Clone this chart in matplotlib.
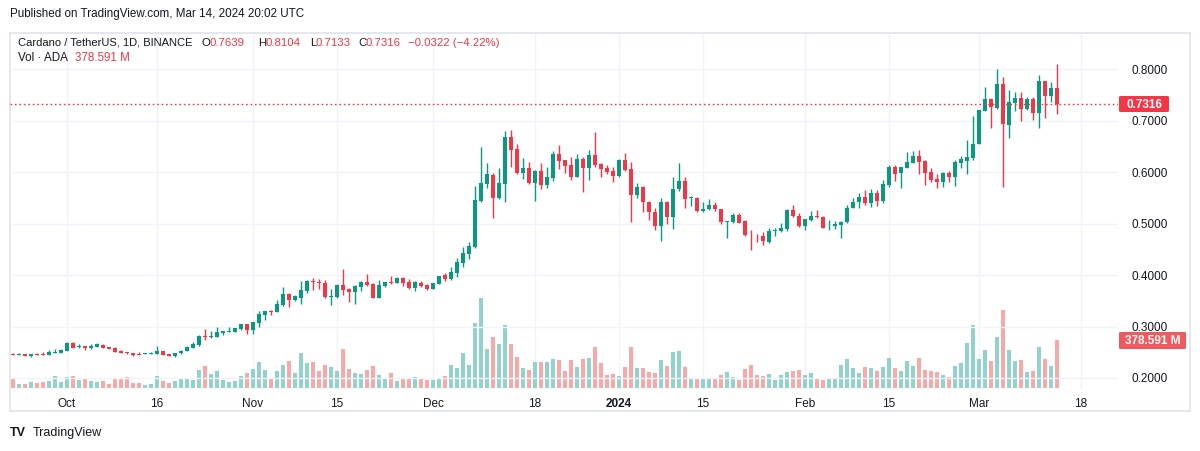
import numpy as np
import pandas as pd
import matplotlib
matplotlib.use("Agg")
import matplotlib.pyplot as plt
from matplotlib.patches import FancyBboxPatch
from matplotlib.lines import Line2D

plt.rcParams['font.family'] = ['Liberation Sans', 'DejaVu Sans']

start_date = "2023-09-22"

opens = [.2463,.2450,.2465,.2432,.2460,.2465,.2450,.2495,.2495,.2520,
         .2670,.2605,.2618,.2590,.2605,.2650,.2605,.2585,.2528,.2502,
         .2476,.2457,.2475,.2475,.2470,.2521,.2463,.2424,.2476,.2521,
         .2592,.2637,.2810,.2790,.2799,.2876,.2896,.2890,.2948,.3040,
         .2935,.3065,.3220,.3298,.3285,.3408,.3628,.3518,.3563,.3686,
         .3880,.3867,.3841,.3570,.3570,.3809,.3732,.3673,.3770,.3867,
         .3828,.3557,.3794,.3858,.3852,.3942,.3858,.3755,.3845,.3813,
         .3735,.3832,.3994,.3916,.4045,.4239,.4406,.4542,.5439,.5774,
         .5935,.5497,.5768,.6684,.6445,.5987,.6077,.5794,.6019,.5755,
         .5890,.6348,.6232,.6135,.5910,.6252,.6084,.6329,.6155,.6077,
         .6019,.5929,.6232,.6065,.5560,.5715,.5424,.5230,.4945,.5424,
         .5120,.5676,.5832,.5495,.5502,.5236,.5288,.5366,.5288,.5036,
         .5036,.5172,.5042,.4803,.4799,.4764,.4641,.4861,.4848,.4900,
         .5269,.5152,.4958,.5074,.5152,.5133,.4945,.4945,.4977,.5023,
         .5307,.5411,.5521,.5405,.5600,.5445,.5755,.6097,.5987,.6084,
         .6181,.6310,.6206,.6000,.5858,.5806,.5981,.5903,.6181,.6213,
         .6277,.6542,.7187,.7413,.7252,.7703,.6916,.7342,.7432,.7226,
         .7413,.7148,.7761,.7477,.7639]

highs = [.2482,.2480,.2470,.2470,.2480,.2500,.2535,.2560,.2566,.2690,
         .2695,.2657,.2620,.2657,.2680,.2660,.2610,.2605,.2540,.2505,
         .2480,.2498,.2485,.2508,.2625,.2525,.2470,.2485,.2540,.2625,
         .2690,.2840,.2950,.2903,.2987,.2915,.2987,.2980,.3045,.3058,
         .3097,.3298,.3310,.3330,.3518,.3764,.3660,.3610,.3880,.3906,
         .3951,.3919,.3900,.3725,.3828,.4119,.3740,.3800,.3880,.4016,
         .3850,.3900,.3870,.3980,.3961,.3960,.3916,.3884,.3884,.3832,
         .3850,.3990,.4032,.4161,.4329,.4548,.4645,.5723,.6484,.6174,
         .5981,.6077,.6800,.6813,.6548,.6277,.6194,.6039,.6174,.6097,
         .6406,.6523,.6240,.6290,.6348,.6290,.6426,.6774,.6170,.6135,
         .6097,.6252,.6368,.6200,.5793,.5735,.5443,.5295,.5502,.5443,
         .5910,.6181,.5910,.5541,.5510,.5424,.5482,.5411,.5290,.5055,
         .5197,.5210,.5074,.4880,.4803,.4842,.4913,.4913,.5016,.5288,
         .5366,.5211,.5094,.5249,.5269,.5139,.5074,.5055,.5042,.5366,
         .5502,.5599,.5657,.5676,.5657,.5839,.6135,.6135,.6103,.6387,
         .6400,.6426,.6232,.6084,.5961,.6000,.6019,.6232,.6310,.6619,
         .7084,.7200,.7645,.7439,.7994,.7839,.7594,.7548,.7548,.7465,
         .7452,.7877,.7761,.7742,.8104]

lows = [.2440,.2445,.2430,.2415,.2445,.2445,.2445,.2490,.2490,.2515,
        .2580,.2573,.2547,.2570,.2600,.2575,.2563,.2505,.2480,.2470,
        .2430,.2445,.2470,.2470,.2465,.2443,.2425,.2411,.2460,.2515,
        .2590,.2620,.2740,.2773,.2795,.2838,.2890,.2885,.2935,.2851,
        .2851,.2994,.3130,.3220,.3280,.3389,.3369,.3500,.3434,.3660,
        .3712,.3725,.3550,.3415,.3557,.3602,.3480,.3434,.3693,.3796,
        .3550,.3550,.3768,.3830,.3840,.3794,.3729,.3697,.3768,.3710,
        .3730,.3820,.3890,.3903,.3968,.4161,.4316,.4529,.5420,.5690,
        .5110,.5480,.5426,.6103,.5970,.5865,.5768,.5445,.5671,.5690,
        .5832,.6065,.5974,.5845,.5900,.5619,.5852,.6103,.5910,.5961,
        .5813,.5910,.6026,.5023,.5502,.5230,.5074,.4880,.4654,.4984,
        .4887,.5625,.5294,.5333,.5230,.5230,.5256,.5236,.4984,.4725,
        .5003,.5003,.4757,.4492,.4647,.4589,.4628,.4764,.4840,.4848,
        .5133,.4932,.4867,.5055,.5107,.4913,.4880,.4900,.4725,.5016,
        .5300,.5295,.5366,.5314,.5348,.5406,.5716,.5826,.5697,.6071,
        .6174,.5961,.5755,.5806,.5697,.5716,.5806,.5729,.6084,.5961,
        .6239,.6535,.7187,.6858,.7226,.5716,.6665,.7187,.6994,.7200,
        .7019,.6858,.7052,.7361,.7133]

closes = [.2450,.2465,.2432,.2460,.2450,.2450,.2510,.2510,.2545,.2677,
          .2585,.2625,.2580,.2625,.2663,.2580,.2566,.2510,.2485,.2485,
          .2443,.2450,.2482,.2489,.2521,.2444,.2431,.2482,.2528,.2605,
          .2663,.2819,.2790,.2818,.2890,.2909,.2916,.2968,.3039,.2935,
          .3078,.3239,.3298,.3290,.3434,.3628,.3518,.3595,.3705,.3880,
          .3867,.3854,.3570,.3583,.3809,.3712,.3673,.3790,.3867,.3809,
          .3557,.3806,.3858,.3845,.3942,.3852,.3755,.3865,.3787,.3735,
          .3845,.3981,.3929,.4058,.4252,.4426,.4561,.5452,.5787,.5961,
          .5497,.5787,.6684,.6426,.5987,.6077,.5794,.6019,.5755,.5903,
          .6348,.6219,.6123,.5910,.6252,.6084,.6329,.6142,.6065,.6006,
          .5929,.6232,.6039,.5560,.5715,.5411,.5217,.4945,.5424,.5120,
          .5676,.5832,.5469,.5502,.5236,.5288,.5366,.5275,.5023,.5055,
          .5172,.5016,.4770,.4790,.4790,.4654,.4861,.4880,.4919,.5269,
          .5139,.4945,.5094,.5152,.5120,.4919,.4958,.4997,.5036,.5307,
          .5424,.5521,.5405,.5599,.5445,.5768,.6097,.5961,.6097,.6194,
          .6310,.6194,.5987,.5845,.5806,.5981,.5903,.6194,.6252,.6290,
          .6542,.7200,.7413,.7265,.7703,.6923,.7355,.7432,.7226,.7413,
          .7148,.7761,.7477,.7638,.7316]

volumes_m = [79,32,32,48,40,48,56,95,48,87,95,64,71,56,48,56,32,79,71,87,
             40,40,24,32,95,56,40,56,79,79,64,143,175,111,135,64,48,56,95,119,151,
             206,143,71,135,183,214,119,278,198,206,135,183,167,135,310,151,119,111,143,175,103,
             71,119,56,71,79,87,71,64,64,79,95,183,159,278,183,516,715,310,405,349,500,
             349,246,159,143,206,206,206,230,222,135,222,167,230,238,326,198,103,111,95,167,
             326,159,159,127,119,222,175,286,294,167,79,79,71,79,71,103,127,87,64,151,183,
             103,95,111,64,103,127,135,143,103,119,71,64,79,79,183,230,159,119,167,159,135,
             167,238,159,135,214,175,238,143,135,127,103,87,175,198,357,500,230,302,214,405,619,
             302,214,222,127,135,326,230,175,378.591]

tick_dates = ["2023-10-01", "2023-10-16", "2023-11-01", "2023-11-15", "2023-12-01",
              "2023-12-18", "2024-01-01", "2024-01-15", "2024-02-01", "2024-02-15",
              "2024-03-01", "2024-03-18"]
tick_labels = ["Oct", "16", "Nov", "15", "Dec", "18", "2024", "15", "Feb", "15", "Mar", "18"]
price_ticks = [0.2, 0.3, 0.4, 0.5, 0.6, 0.7, 0.8]

# ---------------------------------------------------------------
UP = '#089981'
DOWN = '#f23645'
VUP = '#92d2cc'
VDOWN = '#f7a9a7'
GRID = '#f0f3fa'
TXT = '#131722'

W, H = 1200, 451
fig = plt.figure(figsize=(W / 100, H / 100), dpi=100)
fig.patch.set_facecolor('white')

def fx(px):
    return px / W

def fy(py):
    return 1 - py / H

pane_l, pane_r, pane_t, pane_b = 10, 1118, 33, 390
ax = fig.add_axes([fx(pane_l), fy(pane_b), fx(pane_r - pane_l), (pane_b - pane_t) / H])
ax.set_zorder(2)
ax.patch.set_alpha(0)
axv = ax.twinx()
axv.set_zorder(1)

o = np.array(opens); h = np.array(highs); l = np.array(lows); c = np.array(closes)
v = np.array(volumes_m)
n = len(c)
dates = pd.date_range(start_date, periods=n, freq="D")
x = np.arange(n)
up = c >= o
col = np.where(up, UP, DOWN)
vcol = np.where(up, VUP, VDOWN)

# price scale: 0.8 at y=69, 0.2 at y=378
ppx = (378 - 69) / 0.6
ax.set_ylim(0.2 - (pane_b - 378) / ppx, 0.8 + (69 - pane_t) / ppx)
x_right = (pane_r - 13) / 6.0
ax.set_xlim(-0.5, x_right)

# grid
for t in price_ticks:
    ax.axhline(t, color=GRID, lw=1, zorder=0)
start = pd.Timestamp(start_date)
tick_pos = [(pd.Timestamp(d) - start).days for d in tick_dates]
for tp in tick_pos:
    axv.axvline(tp, color=GRID, lw=1, zorder=0)

# volume
vpx = 47.7 / 378.591  # px per million
axv.set_ylim(-(pane_b - 388) / vpx, (388 - pane_t) / vpx)
axv.bar(x, v, width=0.8, color=vcol, zorder=1, linewidth=0)
axv.set_xlim(-0.5, x_right)
axv.axis('off')

# candles
ax.vlines(x, l, h, colors=col, lw=1, zorder=3)
body_lo = np.minimum(o, c)
body_h = np.maximum(np.abs(c - o), 0.0012)
ax.bar(x, body_h, bottom=body_lo, width=0.78, color=col, zorder=4, linewidth=0)

# last price line
ax.axhline(c[-1], color=DOWN, lw=1, ls=(0, (1.2, 2)), zorder=5)

# axes styling
for s in ax.spines.values():
    s.set_visible(False)
ax.yaxis.tick_right()
ax.set_yticks(price_ticks)
ax.set_yticklabels([f"{t:.4f}" for t in price_ticks])
ax.tick_params(axis='y', length=0, pad=10, labelsize=8.5, labelcolor=TXT)
ax.set_xticks(tick_pos)
ax.set_xticklabels(tick_labels)
ax.tick_params(axis='x', length=0, pad=6, labelsize=8.5, labelcolor=TXT)
for lab in ax.get_xticklabels():
    if lab.get_text() == "2024":
        lab.set_fontweight('bold')

# frame lines
border = '#e0e3eb'
for (x0, y0, x1, y1) in [(10, 33, 1190, 33), (10, 33, 10, 411), (1190, 33, 1190, 411), (10, 411, 1190, 411)]:
    fig.add_artist(Line2D([fx(x0), fx(x1)], [fy(y0), fy(y1)], color=border, lw=1.2))

# price label box
fig.add_artist(FancyBboxPatch((fx(1119), fy(112)), fx(50), (112 - 96) / H,
                              boxstyle="round,pad=0,rounding_size=0.002",
                              facecolor=DOWN, edgecolor='none'))
fig.text(fx(1144), fy(104.5), f"{c[-1]:.4f}", color='white', fontsize=8.5,
         fontweight='bold', ha='center', va='center')
# volume label box
fig.add_artist(FancyBboxPatch((fx(1119), fy(349)), fx(67), (349 - 332) / H,
                              boxstyle="round,pad=0,rounding_size=0.002",
                              facecolor='#f05a5f', edgecolor='none'))
fig.text(fx(1152.5), fy(340.5), f"{v[-1]:.3f} M", color='white', fontsize=8.5,
         fontweight='bold', ha='center', va='center')

# header
FS = 8.4
fig.text(fx(10), fy(14), "Published on TradingView.com, Mar 14, 2024 20:02 UTC",
         fontsize=FS, color=TXT, ha='left', va='center')
ly = fy(42.5)
fig.text(fx(18), ly, "Cardano / TetherUS, 1D, BINANCE", fontsize=8.0, color=TXT, ha='left', va='center')
chg = c[-1] - c[-2]
pct = chg / c[-2] * 100
pieces = [(202, "O", TXT), (209, f"{o[-1]:.4f}", DOWN),
          (258, "H", TXT), (265, f"{h[-1]:.4f}", DOWN),
          (310, "L", TXT), (316, f"{l[-1]:.4f}", DOWN),
          (358, "C", TXT), (366, f"{c[-1]:.4f}", DOWN),
          (408, f"\u2212{abs(chg):.4f} (\u2212{abs(pct):.2f}%)", DOWN)]
for px_, s, cc in pieces:
    fig.text(fx(px_), ly, s, fontsize=8.2, color=cc, ha='left', va='center')
fig.text(fx(18), fy(58.5), "Vol \u00b7 ADA", fontsize=FS, color=TXT, ha='left', va='center')
fig.text(fx(75), fy(58.5), f"{v[-1]:.3f} M", fontsize=FS, color=DOWN, ha='left', va='center')

# footer logo
fig.text(fx(10), fy(433), "TV", fontsize=9, fontweight='heavy', color=TXT, ha='left', va='center')
fig.text(fx(33), fy(433), "TradingView", fontsize=9, color=TXT, ha='left', va='center')

fig.savefig("out.png", dpi=100, facecolor='white')
